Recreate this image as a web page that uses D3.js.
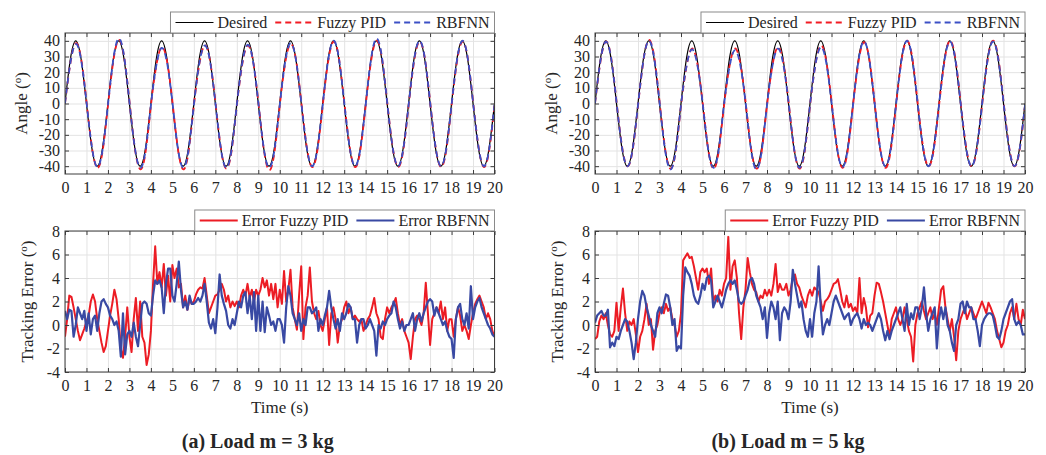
<!DOCTYPE html>
<html>
<head>
<meta charset="utf-8">
<title>Angle and tracking error, Fuzzy PID vs RBFNN</title>
<script src="https://d3js.org/d3.v7.min.js"></script>
<style>
  body { margin: 0; background: #fff; }
  text { font-family: "Liberation Serif", "Times New Roman", serif; fill: #262626; }
</style>
</head>
<body>
<div id="chart"></div>
<script>
// ---- data ----
var angleTime = d3.range(0, 20.001, 0.25);
var errTime = d3.range(0, 20.001, 0.1);
var xTicks = d3.range(0, 21, 1);
var angleTicks = [-40, -30, -20, -10, 0, 10, 20, 30, 40];
var errTicks = [-4, -2, 0, 2, 4, 6, 8];

var desired = [
  0, 28.3, 40, 28.3, 0, -28.3, -40, -28.3, 0, 28.3, 40, 28.3, 0, -28.3, -40, -28.3,
  0, 28.3, 40, 28.3, 0, -28.3, -40, -28.3, 0, 28.3, 40, 28.3, 0, -28.3, -40, -28.3,
  0, 28.3, 40, 28.3, 0, -28.3, -40, -28.3, 0, 28.3, 40, 28.3, 0, -28.3, -40, -28.3,
  0, 28.3, 40, 28.3, 0, -28.3, -40, -28.3, 0, 28.3, 40, 28.3, 0, -28.3, -40, -28.3,
  0, 28.3, 40, 28.3, 0, -28.3, -40, -28.3, 0, 28.3, 40, 28.3, 0, -28.3, -40, -28.3,
  0];

// load 3 kg
var angFuzzy3 = [
  0, 25.7, 38.5, 28.7, 1.5, -27.5, -41, -30.5, -1.5, 27.1, 40.5, 30.1, 1.5, -28.2, -42, -31.2,
  -1.5, 24.0, 36, 27.0, 1.5, -28.2, -42, -31.2, -1.5, 24.7, 37, 27.7, 1.5, -27.8, -41.5, -30.8,
  -1.5, 24.7, 37, 27.7, 1.5, -28.5, -42.5, -31.5, -1.5, 25.4, 38, 28.4, 1.5, -27.1, -40.5, -30.1,
  -1.5, 26.4, 39.5, 29.4, 1.5, -27.1, -40.5, -30.1, -1.5, 26.8, 40, 29.8, 1.5, -27.1, -40.5, -30.1,
  -1.5, 26.4, 39.5, 29.4, 1.5, -27.1, -40.5, -30.1, -1.5, 26.4, 39.5, 29.4, 1.5, -27.1, -40.5, -30.1,
  -1.5];
var angRbf3 = [
  0, 25.9, 38, 27.9, 1, -27.6, -40.5, -29.6, -1, 28.3, 41.5, 30.3, 1, -28.0, -41, -30.0,
  -1, 24.1, 35.5, 26.1, 1, -28.0, -41, -30.0, -1, 25.2, 37, 27.2, 1, -28.0, -41, -30.0,
  -1, 25.5, 37.5, 27.5, 1, -28.0, -41, -30.0, -1, 26.2, 38.5, 28.2, 1, -27.3, -40, -29.3,
  -1, 27.3, 40, 29.3, 1, -27.3, -40, -29.3, -1, 28.3, 41.5, 30.3, 1, -27.3, -40, -29.3,
  -1, 27.3, 40, 29.3, 1, -27.3, -40, -29.3, -1, 27.3, 40, 29.3, 1, -27.3, -40, -29.3,
  -1];
var errFuzzy3 = [
  -1.0, 0.5, 2.5, 2.4, 1.5, 0.5, -0.5, -1.3, -0.8, -0.3,
  0.3, 0.8, 2.0, 2.6, 2.0, 0.5, -0.5, -1.5, -2.3, -1.8,
  -0.5, 0.8, 1.8, 3.0, 2.2, 0.5, -2.0, -2.8, -1.0, 1.5,
  -1.0, -2.3, 0.5, 2.3, -0.5, 2.0, -1.0, -1.5, -3.4, -2.5,
  -0.5, 3.5, 6.7, 3.5, 4.5, 3.2, 5.2, 2.5, 4.2, 2.0,
  5.1, 4.0, 4.8, 3.2, 3.5, 1.5, 2.5, 1.3, 2.2, 1.8,
  2.0, 2.6, 3.0, 3.2, 3.1, 4.0, 2.5, 1.0, 1.5, 2.0,
  2.5, 2.6, 3.0, 3.5, 3.0, 2.0, 2.5, 1.5, 2.0, 1.6,
  2.0, 1.5, 2.5, 3.0, 2.5, 3.5, 2.3, 3.0, 2.0, 3.0,
  2.5, 3.0, 4.0, 3.2, 3.8, 2.5, 3.5, 2.2, 3.5, 1.5,
  3.0, 1.8, 4.6, 2.0, 3.0, 4.7, 1.5, 0.5, -0.4, 2.5,
  5.0, -1.2, 1.5, 2.5, 4.9, 2.0, 1.0, 0.5, 1.2, 0.0,
  -0.5, 0.5, 1.5, -1.7, 1.0, 1.5, 0.5, -1.5, 0.0, 0.5,
  1.5, 2.0, 1.0, 1.5, 0.5, 0.8, 0.5, 0.3, 0.5, -0.5,
  0.0, 0.5, 0.8, 1.5, 2.3, 1.0, 0.5, -1.0, -1.2, 0.5,
  1.5, 1.0, 1.5, 1.8, 2.3, 1.0, 0.0, 0.5, -0.5, -1.0,
  -1.5, -2.9, -1.0, 0.5, 0.8, 0.5, 0.0, 1.0, 3.6, 1.0,
  -1.7, 0.5, 1.0, 1.5, 1.0, 2.0, 0.5, 1.5, -0.5, 0.5,
  0.5, -1.0, 0.5, 1.5, 0.8, -0.5, 0.0, -0.5, -1.2, 0.0,
  1.0, 1.8, 2.2, 2.5, 2.0, 1.5, 0.5, 1.0, 0.5, -0.5,
  -1.0];
var errRbf3 = [
  1.2, 0.5, 1.3, 1.2, -1.0, 0.0, 1.5, 1.0, 0.5, 1.2,
  -0.5, 1.0, -0.8, 0.5, 0.8, -0.5, 1.0, 2.0, 2.2, 1.8,
  1.5, 0.8, 0.5, 0.0, 0.3, -0.5, -2.7, 1.0, -2.5, -0.8,
  -0.5, -1.0, 0.2, -1.0, -1.8, 0.0, 1.8, 2.0, 1.8, 1.0,
  0.8, 2.5, 3.8, 3.5, 3.8, 3.2, 1.0, 3.5, 4.8, 4.8,
  2.5, 2.0, 3.5, 5.4, 3.0, 1.5, 2.0, 1.3, 2.5, 1.8,
  1.8, 2.0, 2.3, 2.0, 2.5, 3.5, 2.0, 0.2, -0.3, 0.5,
  -0.7, 1.5, 4.3, 2.5, 1.8, 1.2, 0.0, -0.3, 0.5, 0.0,
  1.0, 2.0, 1.5, 2.5, 2.8, 1.0, 2.5, 0.5, 2.8, -0.5,
  2.5, -0.5, 2.0, -0.6, 1.5, 0.8, 0.0, 0.3, -0.5, 0.5,
  0.5, 0.0, -1.5, 1.5, 3.3, 2.5, 1.0, 0.5, 0.0, 1.0,
  -0.5, 0.5, 0.0, 1.5, 1.5, 1.0, 1.2, 1.5, -0.5, 0.5,
  0.0, 0.8, 1.5, 2.9, 1.5, 0.5, -0.3, 0.5, -0.5, 1.0,
  0.5, 1.0, 1.8, 1.5, 0.5, 0.5, -1.5, 0.0, 0.5, 0.5,
  -0.3, 0.0, 0.5, 0.0, -0.5, -2.6, 0.0, -0.3, 0.3, 0.0,
  0.5, 0.8, 1.0, 2.0, 1.5, 0.5, -0.3, 0.3, -0.5, 0.0,
  0.0, 0.5, 1.0, -0.5, 0.5, 1.0, 0.3, 1.0, 1.5, 2.0,
  2.2, 2.0, 0.8, 1.5, 1.0, 0.5, 0.0, 0.3, -0.5, -1.0,
  -1.2, -2.8, 0.5, 1.5, 1.8, 0.5, 0.0, 1.0, -0.3, 3.3,
  0.5, 1.5, 2.0, 2.3, 1.5, 1.0, 0.5, 0.0, -0.3, -0.8,
  -1.0];

// load 5 kg
var angFuzzy5 = [
  0, 26.4, 39.5, 29.4, 1.5, -26.8, -40, -29.8, -1.5, 27.1, 40.5, 30.1, 1.5, -27.8, -41.5, -30.8,
  -1.5, 23.2, 35, 26.2, 1.5, -27.8, -41.5, -30.8, -1.5, 23.2, 35, 26.2, 1.5, -27.8, -41.5, -30.8,
  -1.5, 24.0, 36, 27.0, 1.5, -27.8, -41.5, -30.8, -1.5, 24.7, 37, 27.7, 1.5, -27.5, -41, -30.5,
  -1.5, 26.1, 39, 29.1, 1.5, -27.5, -41, -30.5, -1.5, 26.8, 40, 29.8, 1.5, -26.8, -40, -29.8,
  -1.5, 26.8, 40, 29.8, 1.5, -26.8, -40, -29.8, -1.5, 26.8, 40, 29.8, 1.5, -26.8, -40, -29.8,
  -1.5];
var angRbf5 = [
  0, 26.9, 39.5, 28.9, 1, -27.3, -40, -29.3, -1, 27.3, 40, 29.3, 1, -28.7, -42, -30.7,
  -1, 23.4, 34.5, 25.4, 1, -28.0, -41, -30.0, -1, 23.0, 34, 25.0, 1, -28.7, -42, -30.7,
  -1, 23.7, 35, 25.7, 1, -28.0, -41, -30.0, -1, 24.5, 36, 26.5, 1, -27.6, -40.5, -29.6,
  -1, 26.9, 39.5, 28.9, 1, -27.3, -40, -29.3, -1, 27.3, 40, 29.3, 1, -27.3, -40, -29.3,
  -1, 26.9, 39.5, 28.9, 1, -27.3, -40, -29.3, -1, 26.9, 39.5, 28.9, 1, -27.3, -40, -29.3,
  -1];
var errFuzzy5 = [
  -1.2, -1.0, 0.3, 0.8, 0.5, 1.0, 0.0, -0.8, -1.0, -0.5,
  1.9, -0.5, 1.5, 3.1, 1.0, -0.5, 0.3, 0.0, 0.5, -0.8,
  -2.3, -1.0, -0.5, 0.5, 1.8, 0.0, 0.5, -2.1, -0.5, 0.0,
  1.0, 1.5, 1.0, 1.8, 1.2, 1.5, 0.5, 0.0, -1.0, -0.5,
  1.0, 5.5, 5.8, 6.1, 5.7, 5.8, 5.0, 4.0, 3.0, 4.5,
  4.8, 4.5, 4.8, 3.5, 4.8, 2.0, 2.5, 2.0, 3.0, 2.5,
  3.5, 4.0, 7.5, 3.0, 5.0, 5.5, 4.0, 1.0, -1.2, 1.5,
  3.0, 5.7, 4.5, 3.5, 3.0, 2.8, 2.0, 2.5, 2.3, 3.0,
  2.5, 3.0, 2.5, 3.5, 5.2, 2.8, 3.5, 3.0, 3.0, 3.5,
  2.5, 3.0, 4.0, 4.3, 3.5, 3.2, 2.5, 2.0, 1.5, 2.5,
  3.0, 2.5, 3.2, 3.0, 2.8, 2.0, 1.2, 2.0, 2.2, 2.5,
  3.0, 3.5, 3.6, 3.9, 3.0, 2.0, 1.5, 2.5, 1.5, 1.8,
  1.2, 1.5, 1.0, 4.0, 1.0, 2.3, 1.5, -0.2, 0.8, 1.0,
  2.5, 3.6, 3.5, 2.8, 2.0, 1.0, 0.0, -1.0, 0.5, 1.0,
  1.5, 0.5, 0.0, 0.5, 1.5, 0.5, -0.5, -1.0, -3.1, 0.0,
  1.0, 1.5, 2.0, 1.2, 0.5, 1.0, 1.5, 0.5, 1.0, 0.0,
  1.5, 3.0, 3.3, 1.5, 0.5, -0.5, 0.5, -1.0, -3.0, -0.5,
  0.5, 1.0, 1.5, 0.5, 1.0, 1.5, 1.0, 0.5, 1.0, 1.5,
  2.0, 1.5, 1.0, 1.9, 1.5, 1.0, 0.5, -0.5, -1.2, -1.9,
  -1.5, -0.5, 0.0, 1.0, 1.5, 0.5, 1.8, 0.5, 0.0, 1.3,
  0.5];
var errRbf5 = [
  0.2, 0.8, 1.0, 1.2, 0.8, 0.8, 1.3, -1.9, -1.5, -1.8,
  -1.0, -1.2, -0.5, 0.0, 0.5, 0.3, -0.5, -1.5, -2.9, -1.5,
  0.5, 2.0, 2.9, 2.5, 1.5, 0.8, 0.0, -0.5, -1.0, 1.0,
  1.5, 1.0, 1.8, 2.6, 2.5, 1.5, 0.0, 0.5, -2.2, -1.8,
  -2.0, 2.5, 4.9, 4.5, 4.2, 3.5, 2.5, 2.0, 1.8, 2.5,
  3.5, 3.0, 4.0, 4.2, 3.8, 1.5, 2.0, 2.5, 2.0, 1.5,
  2.2, 3.0, 3.5, 3.8, 3.5, 3.8, 3.0, 2.0, 1.8, 2.0,
  2.5, 3.0, 3.8, 4.0, 3.5, 2.5, 2.0, 1.5, 0.5, 1.5,
  -1.1, 1.0, 2.0, 1.5, 0.5, 2.0, -1.3, 1.0, 1.5, 1.2,
  0.5, 2.0, 4.7, 3.5, 2.5, 1.5, 2.0, 0.5, -0.5, -1.0,
  0.5, -1.0, 1.0, 2.0, 5.0, 1.5, -0.8, 0.0, 0.5, 0.0,
  1.0, 2.0, 2.5, 2.0, 1.5, 1.0, 0.5, 0.8, 1.0, 0.0,
  0.5, 0.8, 1.0, 0.5, -0.3, 0.5, 0.0, 0.2, 0.0, -0.5,
  0.0, 0.5, 1.0, 0.5, -0.5, -1.3, -0.5, -1.2, -0.5, 0.0,
  0.5, 1.0, 1.5, 0.5, -0.5, 1.8, 0.0, 1.0, 0.5, 1.5,
  1.5, 0.5, 1.5, 3.2, 1.0, -0.5, 0.5, 1.0, 1.5, -2.0,
  0.5, 1.5, 0.5, 1.5, 0.0, -0.5, -1.5, -2.2, 0.0, 0.5,
  1.8, 2.0, 1.0, 2.0, 1.5, 1.5, 0.5, 0.5, -0.5, -1.8,
  0.0, 0.5, 0.8, 1.0, 1.0, 0.8, 0.0, -1.0, -1.2, -0.5,
  0.5, 1.0, 1.5, 2.0, 2.2, 0.5, 0.0, 0.3, 0.0, -0.8,
  -0.8];

// ---- styles ----
var RED_DASH = "#f21b23", BLUE_DASH = "#3c50c6";
var RED_ERR = "#ec1c24", BLUE_ERR = "#3949a3";

var svg = d3.select("#chart").append("svg")
  .attr("width", 1046).attr("height", 455);

var clipId = 0;

function panel(o) {
  var x = d3.scaleLinear().domain([0, 20]).range([o.left, o.right]);
  var y = d3.scaleLinear().domain(o.yDomain).range([o.bottom, o.top]);
  var g = svg.append("g");
  var h = o.bottom - o.top, w = o.right - o.left;

  // grid
  g.append("g").attr("transform", "translate(0," + o.bottom + ")")
    .call(d3.axisBottom(x).tickValues(xTicks).tickSize(-h).tickFormat(""))
    .call(s => s.select(".domain").remove())
    .selectAll("line").attr("stroke", "#e3e3e3").attr("stroke-width", 1);
  g.append("g").attr("transform", "translate(" + o.left + ",0)")
    .call(d3.axisLeft(y).tickValues(o.yTicks).tickSize(-w).tickFormat(""))
    .call(s => s.select(".domain").remove())
    .selectAll("line").attr("stroke", "#e3e3e3").attr("stroke-width", 1);

  // series
  var id = "clip" + (clipId++);
  g.append("clipPath").attr("id", id).append("rect")
    .attr("x", o.left).attr("y", o.top).attr("width", w).attr("height", h);
  o.series.forEach(function (s) {
    var line = d3.line()
      .x((d, i) => x(s.t[i]))
      .y(d => y(d))
      .curve(s.curve || d3.curveLinear);
    g.append("path")
      .datum(s.v)
      .attr("clip-path", "url(#" + id + ")")
      .attr("fill", "none")
      .attr("stroke", s.color)
      .attr("stroke-width", s.width)
      .attr("stroke-dasharray", s.dash || null)
      .attr("stroke-linejoin", "round")
      .attr("d", line);
  });

  // box + inward ticks
  g.append("rect").attr("x", o.left).attr("y", o.top).attr("width", w).attr("height", h)
    .attr("fill", "none").attr("stroke", "#3c3c3c").attr("stroke-width", 1);

  var fmt = d => String(d);
  var axB = g.append("g").attr("transform", "translate(0," + o.bottom + ")")
    .call(d3.axisBottom(x).tickValues(xTicks).tickSizeInner(-4).tickSizeOuter(0).tickPadding(8).tickFormat(fmt));
  var axT = g.append("g").attr("transform", "translate(0," + o.top + ")")
    .call(d3.axisTop(x).tickValues(xTicks).tickSizeInner(-4).tickSizeOuter(0).tickFormat(""));
  var axL = g.append("g").attr("transform", "translate(" + o.left + ",0)")
    .call(d3.axisLeft(y).tickValues(o.yTicks).tickSizeInner(-4).tickSizeOuter(0).tickPadding(5).tickFormat(fmt));
  var axR = g.append("g").attr("transform", "translate(" + o.right + ",0)")
    .call(d3.axisRight(y).tickValues(o.yTicks).tickSizeInner(-4).tickSizeOuter(0).tickFormat(""));
  [axB, axT, axL, axR].forEach(function (a) {
    a.select(".domain").remove();
    a.selectAll("line").attr("stroke", "#3c3c3c");
    a.selectAll("text").attr("fill", "#262626")
      .style("font-family", '"Liberation Serif", serif').style("font-size", "16px");
  });

  // y label with superscript
  var cy = (o.top + o.bottom) / 2;
  var yl = g.append("text")
    .attr("transform", "translate(" + (o.left + o.ylabelDx) + "," + cy + ") rotate(-90)")
    .attr("text-anchor", "middle").style("font-size", "17px");
  yl.append("tspan").text(o.ylabel + " (");
  yl.append("tspan").attr("baseline-shift", "super").style("font-size", "11px").text("o");
  yl.append("tspan").text(")");

  if (o.xlabel) {
    g.append("text").attr("x", (o.left + o.right) / 2).attr("y", o.bottom + 41)
      .attr("text-anchor", "middle").style("font-size", "17px").text(o.xlabel);
  }

  // legend
  var lg = g.append("g");
  var box = lg.append("rect");
  var cx = 5, ly = o.top - 10.5;
  o.series.forEach(function (s, i) {
    lg.append("line").attr("x1", cx).attr("x2", cx + 38).attr("y1", 0).attr("y2", 0)
      .attr("stroke", s.color).attr("stroke-width", s.width)
      .attr("stroke-dasharray", s.dash || null);
    cx += 42;
    var t = lg.append("text").attr("x", cx).attr("y", 5.5)
      .style("font-size", "16px").text(s.name);
    cx += t.node().getComputedTextLength();
    cx += (i < o.series.length - 1) ? 8 : 5;
  });
  box.attr("x", 0).attr("y", -10.5).attr("width", cx).attr("height", 21)
    .attr("fill", "#fff").attr("stroke", "#8a8a8a").attr("stroke-width", 1);
  lg.attr("transform", "translate(" + (o.right - cx) + "," + ly + ")");
}

function caption(cx, txt) {
  svg.append("text").attr("x", cx).attr("y", 448).attr("text-anchor", "middle")
    .style("font-size", "20px").style("font-weight", "bold").text(txt);
}

var cols = [
  { left: 65, right: 494.5, ylx: -38, fuzzyA: angFuzzy3, rbfA: angRbf3, fuzzyE: errFuzzy3, rbfE: errRbf3, cap: "(a) Load m = 3 kg" },
  { left: 595, right: 1025, ylx: -38, fuzzyA: angFuzzy5, rbfA: angRbf5, fuzzyE: errFuzzy5, rbfE: errRbf5, cap: "(b) Load m = 5 kg" }
];

cols.forEach(function (c) {
  panel({
    left: c.left, right: c.right, top: 33, bottom: 174,
    yDomain: [-45, 45], yTicks: angleTicks, ylabel: "Angle", ylabelDx: c.ylx,
    series: [
      { name: "Desired", t: angleTime, v: desired, color: "#000", width: 1.2, curve: d3.curveNatural },
      { name: "Fuzzy PID", t: angleTime, v: c.fuzzyA, color: RED_DASH, width: 1.8, dash: "6,4", curve: d3.curveNatural },
      { name: "RBFNN", t: angleTime, v: c.rbfA, color: BLUE_DASH, width: 1.8, dash: "6,4", curve: d3.curveNatural }
    ]
  });
  panel({
    left: c.left, right: c.right, top: 231, bottom: 372,
    yDomain: [-4, 8], yTicks: errTicks, ylabel: "Tracking Error", ylabelDx: c.ylx + 6,
    xlabel: "Time (s)",
    series: [
      { name: "Error Fuzzy PID", t: errTime, v: c.fuzzyE, color: RED_ERR, width: 2 },
      { name: "Error RBFNN", t: errTime, v: c.rbfE, color: BLUE_ERR, width: 2.2 }
    ]
  });
  caption((c.left + c.right) / 2 - 22, c.cap);
});
</script>
</body>
</html>
